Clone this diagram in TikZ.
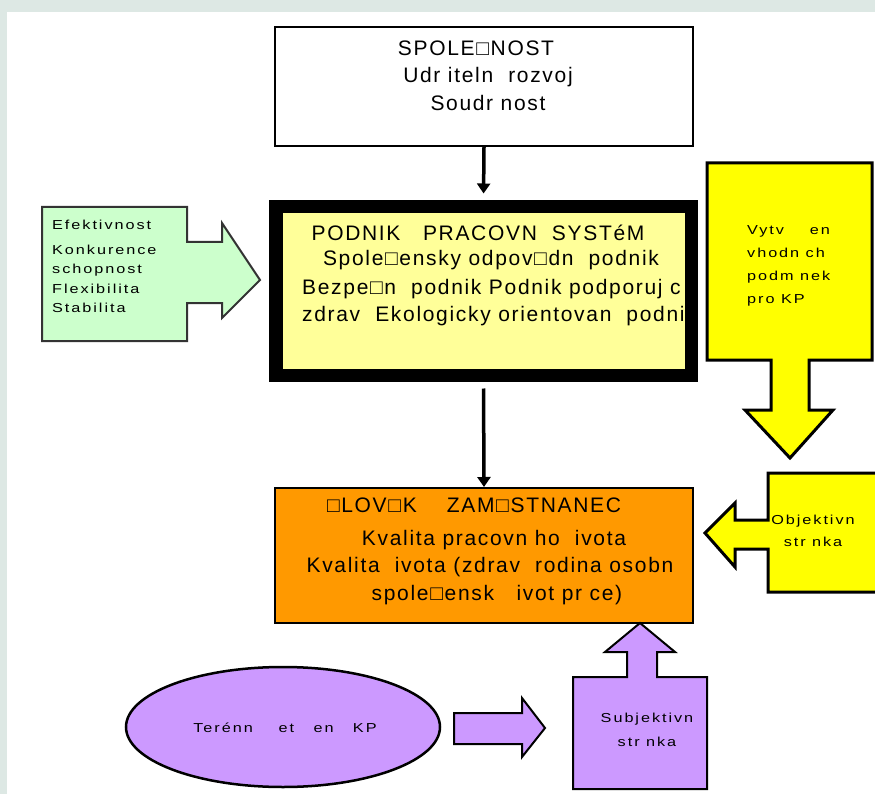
\documentclass[tikz,border=0pt]{standalone}
\usepackage{fontspec}
\setmainfont{Liberation Sans}
\newfontfamily\bigf[LetterSpace=8]{Liberation Sans}
\newfontfamily\smf[FakeStretch=1.25,LetterSpace=15]{Liberation Sans}
\usetikzlibrary{arrows.meta,shapes.geometric}
\definecolor{bgpale}{HTML}{DDE8E4}
\definecolor{lgreen}{HTML}{CCFFCC}
\definecolor{lyellow}{HTML}{FFFF99}
\definecolor{yel}{HTML}{FFFF00}
\definecolor{orng}{HTML}{FF9900}
\definecolor{purp}{HTML}{CC99FF}
\tikzset{
  box/.style={draw=black, line width=2pt, inner sep=0pt},
  bigtxt/.style={font=\bigf\fontsize{21}{25}\selectfont, inner sep=0pt, text=black},
  smtxt/.style={font=\smf\fontsize{13}{15}\selectfont, inner sep=0pt, text=black},
  conn/.style={line width=3.5pt, -{Triangle[width=13pt,length=10pt]}},
  blockarrow/.style={draw=black, line width=2pt, line join=miter},
}
\begin{document}
\begin{tikzpicture}[x=1pt,y=-1pt]
\useasboundingbox (0,0) rectangle (875,794);
\clip (0,0) rectangle (875,794);
\fill[bgpale] (0,0) rectangle (875,794);
\fill[white] (7,12) rectangle (875,794);

% top box
\node[box, fill=white, minimum width=418pt, minimum height=119pt] (spol) at (484,86.5) {};
\node[bigtxt] (spol1) at (476,48) {SPOLE□NOST};
\node[bigtxt] (spol2) at (488,77) {Udr~iteln~~rozvoj};
\node[bigtxt] (spol3) at (488,103) {Soudr~nost};

% podnik box
\node[draw=black, fill=lyellow, line width=13.5pt, inner sep=0pt, minimum width=415.5pt, minimum height=168.5pt] (podnik) at (483.5,291) {};
\begin{scope}
\clip (283,213) rectangle (685,369);
\node[bigtxt] (pod1) at (478,233) {PODNIK~~~PRACOVN~~SYSTéM};
\node[bigtxt] (pod2) at (491,260) {Spole□ensky odpov□dn~~podnik};
\node[bigtxt, anchor=west] (pod3) at (302,289) {Bezpe□n~~podnik Podnik podporuj~c};
\node[bigtxt, anchor=west] (pod4) at (302,316) {zdrav~~Ekologicky orientovan~~podnik};
\end{scope}

% orange box
\node[box, fill=orng, minimum width=418pt, minimum height=135pt] (clovek) at (484,555.5) {};
\node[bigtxt] (cl1) at (474,505) {□LOV□K~~~~ZAM□STNANEC};
\node[bigtxt] (cl2) at (494,540) {Kvalita pracovn~ho~~ivota};
\node[bigtxt] (cl3) at (490,567) {Kvalita~~ivota (zdrav~~rodina osobn};
\node[bigtxt] (cl4) at (497,595) {spole□ensk~~~ivot pr~ce)};

% connectors
\draw[conn, shorten >=6.5pt] (spol.south) -- (podnik.north);
\draw[conn, shorten <=6.5pt] (podnik.south) -- (clovek.north);

% green block arrow
\draw[blockarrow, fill=lgreen, draw=black!80] (42,207) -- (187,207) -- (187,242) -- (222,242) -- (222,223) -- (260,280) -- (222,318) -- (222,303) -- (187,303) -- (187,341) -- (42,341) -- cycle;
\node[smtxt, anchor=north west, align=left, font=\smf\fontsize{13}{19.5}\selectfont] (green) at (52,220) {Efektivnost\\[5pt]Konkurence\\schopnost\\Flexibilita\\Stabilita};

% yellow down arrow
\draw[blockarrow, fill=yel, line width=3pt] (707,163) -- (872,163) -- (872,360) -- (809,360) -- (809,410) -- (833,410) -- (790,458) -- (745,410) -- (771,410) -- (771,360) -- (707,360) -- cycle;
\node[smtxt, anchor=north west, align=left, font=\smf\fontsize{13}{23}\selectfont] (vytv) at (747,225) {Vytv~~~~en\\vhodn~ch\\podm~nek\\pro KP};

% objektivni
\draw[blockarrow, fill=yel, line width=3pt] (768,473) -- (880,473) -- (880,592) -- (768,592) -- (768,549) -- (735,549) -- (735,567) -- (705,533) -- (735,503) -- (735,520) -- (768,520) -- cycle;
\node[smtxt, align=center, font=\smf\fontsize{13}{22}\selectfont] (obj) at (813,531) {Objektivn\\str~nka};

% subjektivni
\draw[blockarrow, fill=purp] (573,677) -- (627,677) -- (627,652) -- (605,652) -- (640,623) -- (675,652) -- (657,652) -- (657,677) -- (707,677) -- (707,789) -- (573,789) -- cycle;
\node[smtxt, align=center, font=\smf\fontsize{13}{24}\selectfont] (subj) at (647,730) {Subjektivn\\str~nka};

% ellipse + arrow
\node[ellipse, draw=black, fill=purp, line width=2.5pt, minimum width=314pt, minimum height=120pt, inner sep=0pt] (ell) at (283,727) {};
\node[smtxt] (elltxt) at (285,728) {Terénn~~~~et~~~en~~~KP};
\draw[blockarrow, fill=purp] (454,713) -- (522,713) -- (522,698) -- (545,728) -- (522,757) -- (522,744) -- (454,744) -- cycle;
\end{tikzpicture}
\end{document}
